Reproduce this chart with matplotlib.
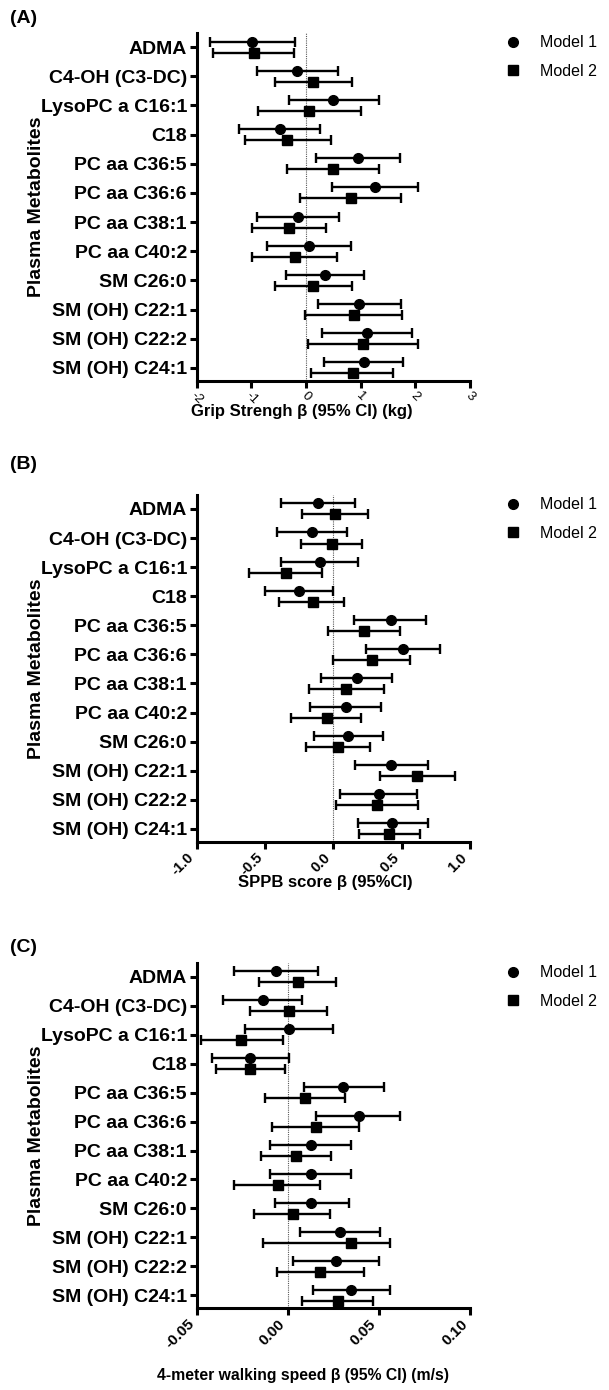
import matplotlib.pyplot as plt
from matplotlib.lines import Line2D
import numpy as np

plt.rcParams['font.family'] = ['Liberation Sans', 'DejaVu Sans']

metabolites = ['ADMA', 'C4-OH (C3-DC)', 'LysoPC a C16:1', 'C18', 'PC aa C36:5', 'PC aa C36:6',
               'PC aa C38:1', 'PC aa C40:2', 'SM C26:0', 'SM (OH) C22:1', 'SM (OH) C22:2',
               'SM (OH) C24:1']

# (A) grip strength, kg
grip_m1 = [-0.99, -0.17, 0.50, -0.48, 0.95, 1.26, -0.14, 0.05, 0.35, 0.97, 1.12, 1.05]
grip_m1_lo = [-1.76, -0.90, -0.32, -1.22, 0.18, 0.48, -0.89, -0.71, -0.37, 0.21, 0.30, 0.32]
grip_m1_hi = [-0.21, 0.58, 1.34, 0.26, 1.71, 2.04, 0.61, 0.82, 1.06, 1.73, 1.93, 1.77]
grip_m2 = [-0.96, 0.13, 0.05, -0.34, 0.49, 0.82, -0.32, -0.21, 0.13, 0.87, 1.04, 0.85]
grip_m2_lo = [-1.70, -0.57, -0.88, -1.12, -0.34, -0.12, -0.99, -0.99, -0.56, -0.02, 0.04, 0.09]
grip_m2_hi = [-0.22, 0.84, 1.01, 0.45, 1.34, 1.73, 0.37, 0.57, 0.84, 1.76, 2.04, 1.59]

# (B) SPPB score
sppb_m1 = [-0.11, -0.16, -0.10, -0.25, 0.42, 0.51, 0.17, 0.09, 0.11, 0.42, 0.33, 0.43]
sppb_m1_lo = [-0.38, -0.41, -0.38, -0.50, 0.15, 0.24, -0.09, -0.17, -0.14, 0.16, 0.05, 0.18]
sppb_m1_hi = [0.16, 0.10, 0.18, 0.00, 0.68, 0.78, 0.43, 0.35, 0.36, 0.69, 0.61, 0.69]
sppb_m2 = [0.01, -0.01, -0.35, -0.15, 0.22, 0.28, 0.09, -0.05, 0.03, 0.61, 0.32, 0.41]
sppb_m2_lo = [-0.23, -0.24, -0.62, -0.40, -0.04, 0.00, -0.18, -0.31, -0.20, 0.34, 0.02, 0.19]
sppb_m2_hi = [0.25, 0.21, -0.08, 0.08, 0.49, 0.56, 0.37, 0.20, 0.27, 0.89, 0.62, 0.63]

# (C) 4-meter walking speed, m/s
walk_m1 = [-0.0066, -0.0134, 0.0004, -0.0207, 0.0304, 0.0388, 0.0128, 0.0128, 0.0128, 0.0288, 0.0266, 0.0346]
walk_m1_lo = [-0.0295, -0.0355, -0.0236, -0.0416, 0.0088, 0.0156, -0.0097, -0.0097, -0.0073, 0.0064, 0.0026, 0.0137]
walk_m1_hi = [0.0165, 0.0075, 0.0245, 0.0005, 0.0526, 0.0617, 0.0348, 0.0348, 0.0337, 0.0507, 0.0498, 0.0559]
walk_m2 = [0.0057, 0.0004, -0.0255, -0.0205, 0.0095, 0.0156, 0.0044, -0.0055, 0.0026, 0.0348, 0.0178, 0.0275]
walk_m2_lo = [-0.0156, -0.0205, -0.0476, -0.0396, -0.0123, -0.0086, -0.0145, -0.0295, -0.0187, -0.0137, -0.0057, 0.0077]
walk_m2_hi = [0.0264, 0.0216, -0.0024, -0.0013, 0.0315, 0.0388, 0.0238, 0.0176, 0.0229, 0.0559, 0.0418, 0.0465]

grip_ticks = [-2, -1, 0, 1, 2, 3]
grip_ticklabels = ['-2', '-1', '0', '1', '2', '3']
sppb_ticks = [-1.0, -0.5, 0.0, 0.5, 1.0]
sppb_ticklabels = ['-1.0', '-0.5', '0.0', '0.5', '1.0']
walk_ticks = [-0.05, 0.0, 0.05, 0.10]
walk_ticklabels = ['-0.05', '0.00', '0.05', '0.10']

panels = [
    dict(tag='(A)', tag_y=0.987, m1=grip_m1, m1_lo=grip_m1_lo, m1_hi=grip_m1_hi,
         m2=grip_m2, m2_lo=grip_m2_lo, m2_hi=grip_m2_hi,
         ticks=grip_ticks, ticklabels=grip_ticklabels,
         xlabel='Grip Strengh β (95% CI) (kg)', xlab_size=12, bottom=0.7261, height=0.2501,
         rot=-45, ha='center', weight='normal', tsize=9.5, xlab_x=0.385, xlab_y=-0.067),
    dict(tag='(B)', tag_y=0.6655, m1=sppb_m1, m1_lo=sppb_m1_lo, m1_hi=sppb_m1_hi,
         m2=sppb_m2, m2_lo=sppb_m2_lo, m2_hi=sppb_m2_hi,
         ticks=sppb_ticks, ticklabels=sppb_ticklabels,
         xlabel='SPPB score β (95%CI)', xlab_size=12, bottom=0.3945, height=0.2494,
         rot=45, ha='right', weight='bold', tsize=10.5, xlab_x=0.47, xlab_y=-0.095),
    dict(tag='(C)', tag_y=0.318, m1=walk_m1, m1_lo=walk_m1_lo, m1_hi=walk_m1_hi,
         m2=walk_m2, m2_lo=walk_m2_lo, m2_hi=walk_m2_hi,
         ticks=walk_ticks, ticklabels=walk_ticklabels,
         xlabel='4-meter walking speed β (95% CI) (m/s)', xlab_size=11.3,
         bottom=0.0590, height=0.2482,
         rot=45, ha='right', weight='bold', tsize=11, xlab_x=0.39, xlab_y=-0.174),
]

fig = plt.figure(figsize=(6.09, 13.90), dpi=100)
y = np.arange(len(metabolites))
off = 0.19

for p in panels:
    ax = fig.add_axes([0.323, p['bottom'], 0.449, p['height']])
    m1 = np.array(p['m1'])
    m2 = np.array(p['m2'])
    err1 = [m1 - np.array(p['m1_lo']), np.array(p['m1_hi']) - m1]
    err2 = [m2 - np.array(p['m2_lo']), np.array(p['m2_hi']) - m2]
    ax.axvline(0, color='0.35', lw=0.8, ls=(0, (1, 1)), zorder=1)
    ax.errorbar(m1, y - off, xerr=err1, fmt='o', color='black', ms=7,
                elinewidth=1.7, capsize=3.8, capthick=1.7, zorder=3)
    ax.errorbar(m2, y + off, xerr=err2, fmt='s', color='black', ms=6.5,
                elinewidth=1.7, capsize=3.8, capthick=1.7, zorder=3)

    ax.set_xlim(p['ticks'][0], p['ticks'][-1])
    ax.set_ylim(11.44, -0.48)
    ax.set_yticks(y)
    ax.set_yticklabels(metabolites, fontsize=14, fontweight='bold')
    ax.set_xticks(p['ticks'])
    ax.set_xticklabels(p['ticklabels'], rotation=p['rot'], ha=p['ha'],
                       fontsize=p['tsize'], fontweight=p['weight'])
    ax.tick_params(axis='both', width=2.2, length=5, color='black')
    ax.tick_params(axis='y', pad=2)
    ax.tick_params(axis='x', pad=1.5)
    for s in ['top', 'right']:
        ax.spines[s].set_visible(False)
    for s in ['left', 'bottom']:
        ax.spines[s].set_linewidth(2.2)

    ax.set_xlabel(p['xlabel'], fontsize=p['xlab_size'], fontweight='bold')
    ax.xaxis.set_label_coords(p['xlab_x'], p['xlab_y'])
    ax.set_ylabel('Plasma Metabolites', fontsize=14, fontweight='bold')
    ax.yaxis.set_label_coords(-0.555, 0.5)

    fig.text(0.0164, p['tag_y'], p['tag'], fontsize=14, fontweight='bold',
             ha='left', va='center')

    handles = [Line2D([], [], marker='o', ls='none', color='black', ms=7),
               Line2D([], [], marker='s', ls='none', color='black', ms=6.5)]
    ax.legend(handles, ['Model 1', 'Model 2'], loc='upper left',
              bbox_to_anchor=(1.105, 1.012), frameon=False, fontsize=11.5,
              handletextpad=1.2, labelspacing=0.85, handlelength=1.0,
              borderaxespad=0.0)

fig.savefig('out.png', dpi=100)
